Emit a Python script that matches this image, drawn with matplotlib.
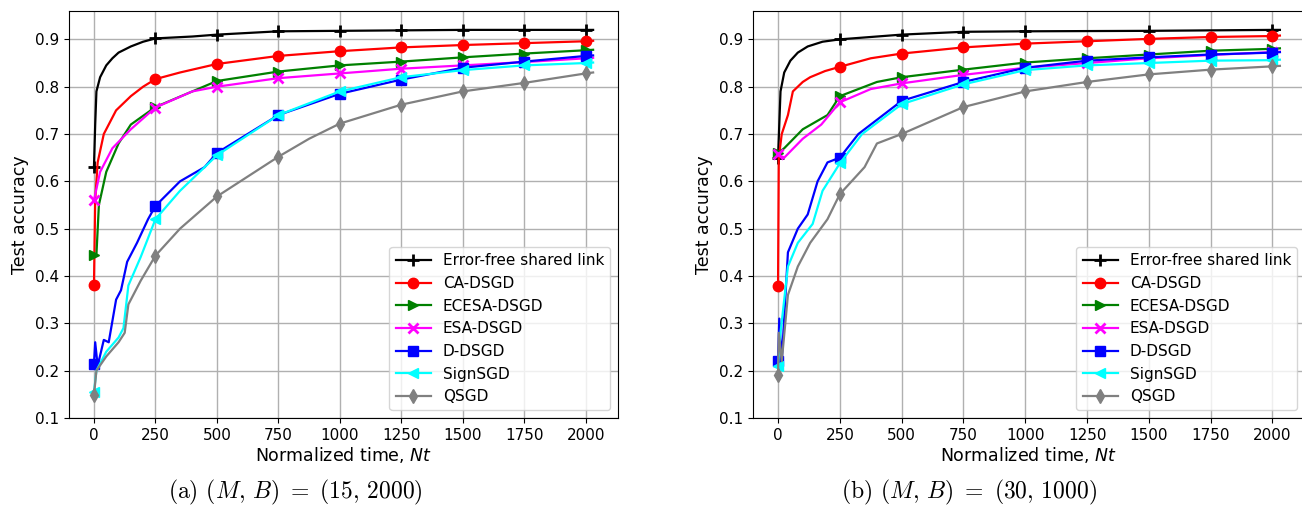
import matplotlib
matplotlib.use('Agg')
import matplotlib.pyplot as plt

XLABEL = 'Normalized time, $Nt$'
YLABEL = 'Test accuracy'

NAMES = ['Error-free shared link', 'CA-DSGD', 'ECESA-DSGD', 'ESA-DSGD',
         'D-DSGD', 'SignSGD', 'QSGD']
COLORS = ['black', 'red', 'green', 'magenta', 'blue', 'cyan', 'gray']
MARKERS = ['+', 'o', '>', 'x', 's', '<', 'd']

CAPTIONS = ['(a) $(M,\\,B)\\ =\\ (15,\\,2000)$', '(b) $(M,\\,B)\\ =\\ (30,\\,1000)$']

# ---- (a) M=15, B=2000 ----
A_FREE_X = [0, 5, 10, 25, 50, 75, 100, 150, 200, 250, 400, 500, 750, 1000, 1250, 1500, 1750, 2000, 2030]
A_FREE_Y = [0.63, 0.72, 0.79, 0.82, 0.845, 0.86, 0.872, 0.885, 0.895, 0.902, 0.906, 0.91, 0.917, 0.918, 0.919, 0.92, 0.92, 0.92, 0.92]
A_CA_X = [0, 5, 15, 40, 90, 150, 200, 250, 350, 500, 750, 1000, 1250, 1500, 1750, 2000, 2030]
A_CA_Y = [0.38, 0.56, 0.64, 0.70, 0.75, 0.78, 0.80, 0.816, 0.83, 0.848, 0.865, 0.875, 0.883, 0.888, 0.892, 0.896, 0.897]
A_ECESA_X = [0, 10, 20, 50, 100, 150, 250, 400, 500, 750, 1000, 1250, 1500, 1750, 2000, 2030]
A_ECESA_Y = [0.445, 0.445, 0.55, 0.62, 0.68, 0.72, 0.757, 0.79, 0.812, 0.832, 0.845, 0.853, 0.862, 0.870, 0.877, 0.878]
A_ESA_X = [0, 25, 75, 150, 250, 400, 500, 750, 1000, 1250, 1500, 1750, 2000, 2030]
A_ESA_Y = [0.56, 0.62, 0.67, 0.71, 0.756, 0.79, 0.80, 0.818, 0.828, 0.838, 0.845, 0.852, 0.86, 0.861]
A_D_X = [0, 5, 15, 40, 60, 90, 110, 135, 175, 220, 250, 350, 450, 500, 625, 750, 1000, 1250, 1500, 1750, 2000, 2030]
A_D_Y = [0.215, 0.26, 0.21, 0.265, 0.26, 0.35, 0.37, 0.43, 0.47, 0.52, 0.548, 0.60, 0.63, 0.66, 0.70, 0.74, 0.785, 0.815, 0.84, 0.853, 0.865, 0.866]
A_SIGN_X = [0, 10, 50, 100, 120, 140, 190, 250, 350, 500, 750, 1000, 1250, 1500, 1750, 2000, 2030]
A_SIGN_Y = [0.155, 0.20, 0.24, 0.27, 0.29, 0.38, 0.44, 0.52, 0.58, 0.655, 0.74, 0.79, 0.82, 0.835, 0.845, 0.85, 0.851]
A_Q_X = [0, 10, 50, 100, 125, 140, 190, 250, 350, 500, 625, 750, 875, 1000, 1250, 1500, 1750, 2000, 2030]
A_Q_Y = [0.148, 0.20, 0.23, 0.26, 0.28, 0.34, 0.39, 0.443, 0.50, 0.568, 0.61, 0.652, 0.69, 0.722, 0.762, 0.79, 0.808, 0.828, 0.83]

# ---- (b) M=30, B=1000 ----
B_FREE_X = [0, 10, 25, 50, 80, 120, 180, 250, 500, 750, 1000, 1500, 2000, 2030]
B_FREE_Y = [0.65, 0.79, 0.83, 0.855, 0.872, 0.885, 0.895, 0.90, 0.91, 0.916, 0.917, 0.918, 0.92, 0.92]
B_CA_X = [0, 3, 15, 40, 60, 100, 130, 190, 250, 375, 500, 750, 1000, 1250, 1500, 1750, 2000, 2030]
B_CA_Y = [0.378, 0.65, 0.70, 0.74, 0.79, 0.81, 0.82, 0.833, 0.842, 0.86, 0.87, 0.883, 0.891, 0.896, 0.901, 0.905, 0.907, 0.908]
B_ECESA_X = [0, 25, 100, 200, 250, 400, 500, 750, 1000, 1250, 1500, 1750, 2000, 2030]
B_ECESA_Y = [0.66, 0.67, 0.71, 0.74, 0.78, 0.81, 0.82, 0.836, 0.851, 0.86, 0.868, 0.876, 0.88, 0.881]
B_ESA_X = [0, 25, 100, 175, 250, 375, 500, 750, 1000, 1250, 1500, 1750, 2000, 2030]
B_ESA_Y = [0.657, 0.65, 0.69, 0.72, 0.767, 0.795, 0.807, 0.825, 0.84, 0.85, 0.86, 0.867, 0.873, 0.874]
B_D_X = [0, 5, 15, 40, 80, 120, 160, 200, 250, 325, 450, 500, 750, 1000, 1250, 1500, 1750, 2000, 2030]
B_D_Y = [0.22, 0.31, 0.22, 0.45, 0.50, 0.53, 0.60, 0.64, 0.65, 0.70, 0.75, 0.77, 0.81, 0.84, 0.855, 0.862, 0.868, 0.872, 0.873]
B_SIGN_X = [0, 10, 40, 80, 140, 180, 250, 340, 500, 750, 1000, 1250, 1500, 1750, 2000, 2030]
B_SIGN_Y = [0.21, 0.28, 0.42, 0.47, 0.51, 0.58, 0.638, 0.70, 0.763, 0.805, 0.835, 0.845, 0.85, 0.855, 0.856, 0.857]
B_Q_X = [0, 3, 15, 40, 80, 130, 200, 250, 350, 400, 500, 750, 1000, 1250, 1500, 1750, 2000, 2030]
B_Q_Y = [0.19, 0.28, 0.22, 0.36, 0.42, 0.47, 0.52, 0.573, 0.63, 0.68, 0.70, 0.757, 0.79, 0.81, 0.826, 0.836, 0.843, 0.844]

PANEL_A = [(A_FREE_X, A_FREE_Y), (A_CA_X, A_CA_Y), (A_ECESA_X, A_ECESA_Y),
           (A_ESA_X, A_ESA_Y), (A_D_X, A_D_Y), (A_SIGN_X, A_SIGN_Y), (A_Q_X, A_Q_Y)]
PANEL_B = [(B_FREE_X, B_FREE_Y), (B_CA_X, B_CA_Y), (B_ECESA_X, B_ECESA_Y),
           (B_ESA_X, B_ESA_Y), (B_D_X, B_D_Y), (B_SIGN_X, B_SIGN_Y), (B_Q_X, B_Q_Y)]


def marker_idx(x):
    # markers every 250 time units
    return [i for i, v in enumerate(x) if v % 250 == 0 and v <= 2000]


def plot_panel(ax, panel):
    for (x, y), name, c, m in zip(panel, NAMES, COLORS, MARKERS):
        ms = 7.5
        mew = 1
        if m == '+':
            ms, mew = 8, 2
        elif m == 'x':
            ms, mew = 6.5, 2
        ax.plot(x, y, color=c, marker=m, markevery=marker_idx(x), lw=1.6,
                ms=ms, mew=mew, label=name)
    ax.set_ylim(0.1, 0.96)
    ax.set_xticks(range(0, 2001, 250))
    ax.set_yticks([0.1 * i for i in range(1, 10)])
    ax.set_yticklabels(['%.1f' % (0.1 * i) for i in range(1, 10)])
    ax.grid(True, color='#b0b0b0', lw=1)
    ax.set_axisbelow(True)
    ax.tick_params(labelsize=11)
    ax.set_xlabel(XLABEL, fontsize=12.5, labelpad=2)
    ax.set_ylabel(YLABEL, fontsize=12.5)
    ax.legend(loc='lower right', fontsize=11, handlelength=2.3)


def main():
    fig = plt.figure(figsize=(13.02, 5.05), dpi=100)
    ax1 = fig.add_axes([0.053, 0.1723, 0.4217, 0.806])
    ax2 = fig.add_axes([0.5783, 0.1723, 0.424, 0.806])
    plot_panel(ax1, PANEL_A)
    plot_panel(ax2, PANEL_B)
    fig.text(0.227, 0.012, CAPTIONS[0], ha='center', fontsize=17,
             family='cmr10', math_fontfamily='cm')
    fig.text(0.744, 0.012, CAPTIONS[1], ha='center', fontsize=17,
             family='cmr10', math_fontfamily='cm')
    fig.savefig('out.png', dpi=100)


if __name__ == '__main__':
    main()
